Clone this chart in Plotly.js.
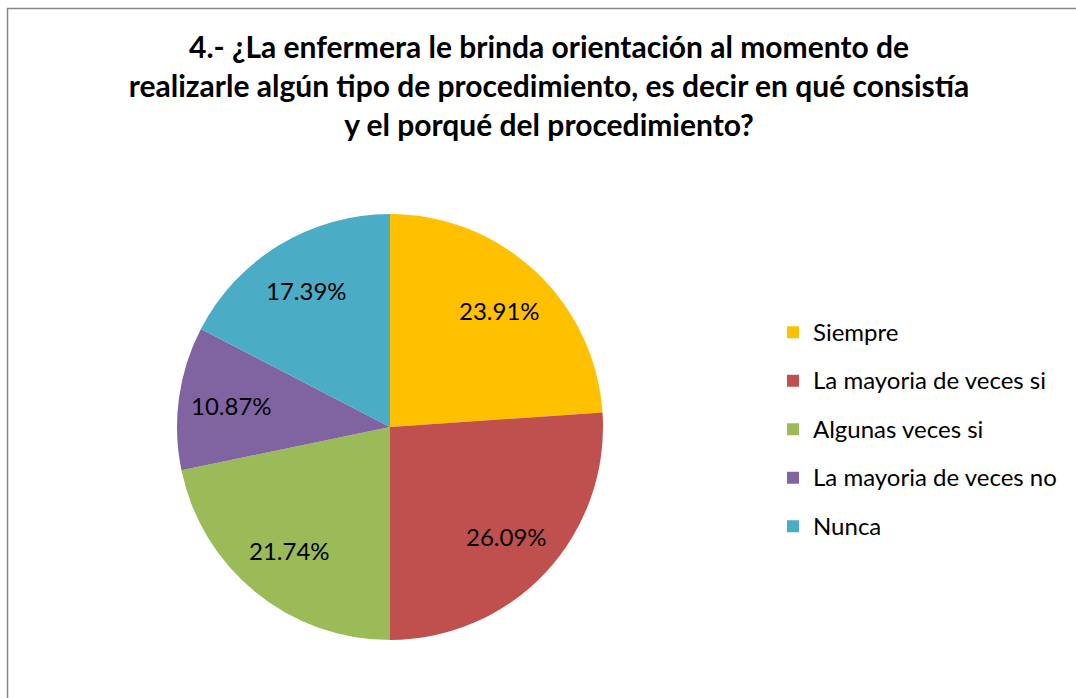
<!DOCTYPE html>
<html>
<head>
<meta charset="utf-8">
<script src="https://cdn.plot.ly/plotly-3.0.1.min.js"></script>
<style>html,body{margin:0;padding:0;background:#fff;}#chart{width:1076px;height:698px;}</style>
</head>
<body>
<div id="chart"></div>
<script>
const categories = ["Siempre", "La mayoria de veces si", "Algunas veces si", "La mayoria de veces no", "Nunca"];
const counts = [11, 12, 10, 5, 8];
const colors = ["#FFC000", "#C0504D", "#9BBB59", "#8064A2", "#4BACC6"];
const titleText = "4.- ¿La enfermera le brinda orientación al momento de<br>realizarle algún tipo de procedimiento, es decir en qué consistía<br>y el porqué del procedimiento?";

const W = 1076, H = 698;
const cx = 390, cy = 427, r = 213;
const labelRadius = 0.75;

const legendLabels = categories.map(c => '<span style="font-size:24px;baseline-shift:5px">' + c + '</span>');

const trace = {
  type: "pie",
  labels: legendLabels,
  values: counts,
  sort: false,
  direction: "clockwise",
  rotation: 0,
  marker: {colors: colors, line: {width: 0}},
  textinfo: "none",
  hoverinfo: "label+percent",
  domain: {x: [(cx - r) / W, (cx + r) / W], y: [(H - cy - r) / H, (H - cy + r) / H]}
};

// percentage labels placed at each slice's mid-angle (derived from counts)
const total = counts.reduce((a, b) => a + b, 0);
let cum = 0;
const annotations = counts.map(v => {
  const mid = (cum + v / 2) / total * 2 * Math.PI;
  cum += v;
  const px = cx + labelRadius * r * Math.sin(mid);
  const py = cy - labelRadius * r * Math.cos(mid);
  return {
    xref: "paper", yref: "paper",
    x: px / W, y: 1 - py / H,
    xanchor: "center", yanchor: "middle",
    showarrow: false,
    text: (v / total * 100).toFixed(2) + "%",
    font: {family: "Lato, sans-serif", size: 24, color: "#000"}
  };
});

const layout = {
  width: W, height: H,
  margin: {l: 0, r: 0, t: 0, b: 0},
  paper_bgcolor: "#fff",
  font: {family: "Lato, sans-serif", color: "#000"},
  title: {
    text: titleText,
    font: {family: "Lato, sans-serif", size: 30, color: "#000", weight: "bold"},
    xref: "container", x: 549 / W, xanchor: "center",
    yref: "container", y: 1 - 58 / H, yanchor: "top"
  },
  showlegend: true,
  legend: {
    x: 773 / W, xanchor: "left",
    y: 1 - 303 / H, yanchor: "top",
    font: {family: "Lato, sans-serif", size: 35, color: "#000"},
    bgcolor: "rgba(0,0,0,0)"
  },
  annotations: annotations,
  shapes: [{
    type: "rect", xref: "paper", yref: "paper",
    x0: 7.5 / W, x1: 1.02, y0: -0.02, y1: 1 - 8.5 / H,
    line: {color: "#868686", width: 1.5}, fillcolor: "rgba(0,0,0,0)"
  }]
};

Plotly.newPlot("chart", [trace], layout, {displayModeBar: false, staticPlot: true});
</script>
</body>
</html>
